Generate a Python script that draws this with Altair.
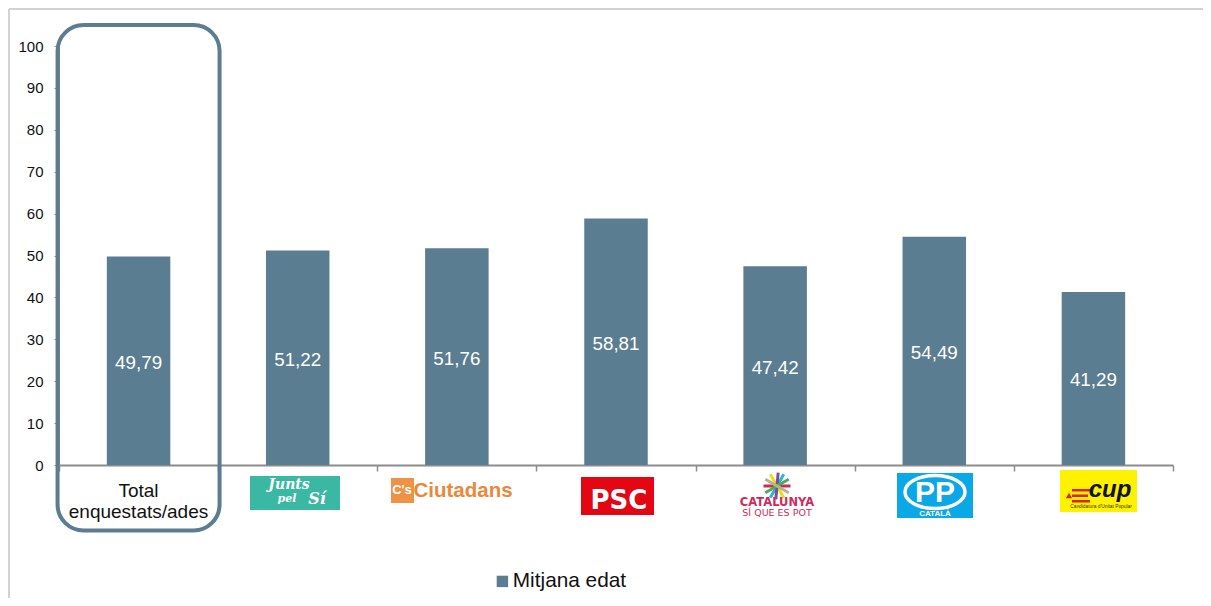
import altair as alt
import pandas as pd

categories = ["Total", "Junts", "Cs", "PSC", "CSQP", "PP", "CUP"]
values = [49.79, 51.22, 51.76, 58.81, 47.42, 54.49, 41.29]
value_labels = ["49,79", "51,22", "51,76", "58,81", "47,42", "54,49", "41,29"]
y_ticks = list(range(0, 101, 10))
series_name = "Mitjana edat"
total_label = ["Total", "enquestats/ades"]

BAR = "#5b7d91"
FONT = "Liberation Sans"
W, H = 1114, 419
PAD_L, PAD_T = 51, 38

df = pd.DataFrame({"cat": categories, "v": values, "lab": value_labels,
                   "mid": [v / 2 for v in values], "s": [series_name] * len(values)})
xs = alt.X("cat:N", sort=categories, title=None,
           scale=alt.Scale(paddingInner=0, paddingOuter=0),
           axis=alt.Axis(labels=False, tickBand="extent", tickSize=6, tickColor="#8c8c8c",
                         domainColor="#8c8c8c", domainWidth=2, tickWidth=1.5))

bars = alt.Chart(df).mark_bar(size=63.5).encode(
    x=xs,
    y=alt.Y("v:Q", title=None, scale=alt.Scale(domain=[0, 100], nice=False),
            axis=alt.Axis(values=y_ticks, grid=False, tickSize=5, tickColor="#8c8c8c",
                          domainColor="#8c8c8c", labelFont=FONT, labelFontSize=15,
                          labelColor="#111111", labelPadding=11)),
    color=alt.Color("s:N", scale=alt.Scale(domain=[series_name], range=[BAR]),
                    legend=alt.Legend(title=None, orient="none", legendX=433, legendY=525,
                                      symbolType="square", symbolSize=130, symbolStrokeWidth=0,
                                      labelFont=FONT, labelFontSize=20.8, labelColor="#111111",
                                      labelOffset=0)),
)
bar_text = alt.Chart(df).mark_text(font=FONT, fontSize=18.8, color="white", dy=2).encode(
    x=alt.X("cat:N", sort=categories), y=alt.Y("mid:Q"), text="lab:N")

centers = {c: 59 + W / 7 * (i + 0.5) for i, c in enumerate(categories)}


def box(cat, x0, x1, y0, y1, color, **kw):
    d = pd.DataFrame({"cat": [cat]})
    return alt.Chart(d).mark_bar(size=x1 - x0, xOffset=(x0 + x1) / 2 - centers[cat], **kw).encode(
        x=alt.X("cat:N", sort=categories),
        y=alt.value(y0 - 46), y2=alt.value(y1 - 46), color=alt.value(color))


def label(cat, txt, x, y, color, size, **kw):
    d = pd.DataFrame({"cat": [cat], "t": [txt]})
    kw.setdefault("font", FONT)
    return alt.Chart(d).mark_text(fontSize=size, xOffset=x - centers[cat], yOffset=0,
                                  color=color, **kw).encode(
        x=alt.X("cat:N", sort=categories), y=alt.value(y - 46), text="t:N")


def spoke(cat, x, y, angle, length, color, width=3):
    d = pd.DataFrame({"cat": [cat]})
    return alt.Chart(d).mark_point(shape="stroke", filled=False, xOffset=x - centers[cat],
                                   angle=angle, size=length ** 2, stroke=color,
                                   strokeWidth=width, opacity=1).encode(
        x=alt.X("cat:N", sort=categories), y=alt.value(y - 46))


ELLIPSE = "M-1,0 A1,0.55 0 1,1 1,0 A1,0.55 0 1,1 -1,0 Z"
layers = [bars, bar_text]

# "Total" label
layers += [label("Total", total_label[0], 138.5, 491, "#111111", 19),
           label("Total", total_label[1], 138.5, 512, "#111111", 19)]

# Junts pel Si
SCRIPT = dict(font="DejaVu Serif", fontStyle="italic", fontWeight="bold")
layers += [box("Junts", 250, 340, 476, 510, "#3ab8a3"),
           label("Junts", "Junts", 289, 485, "white", 14, **SCRIPT),
           label("Junts", "pel", 287, 499, "white", 11, **SCRIPT),
           label("Junts", "Sí", 317, 499, "white", 16, **SCRIPT)]

# Ciutadans
layers += [box("Cs", 391, 414, 478, 503, "#ee9246"),
           label("Cs", "C's", 402, 490, "white", 13, fontWeight="bold"),
           label("Cs", "Ciutadans", 463, 491, "#e8893b", 20.5, fontWeight="bold")]

# PSC
layers += [box("PSC", 581, 654, 477, 515, "#e30613"),
           label("PSC", "PSC", 619, 501, "white", 26, font="DejaVu Sans", fontWeight="bold")]

# Catalunya si que es pot
for ang, col in [(60, "#f2d91a"), (120, "#2bb6d8"), (95, "#7f4b97"), (0, "#cf2a5c"),
                 (150, "#4cae4f"), (30, "#b3b58a")]:
    layers.append(spoke("CSQP", 777, 486, ang, 27, col))
layers += [label("CSQP", "CATALUNYA", 777, 502.5, "#cf2a5c", 11.5, font="DejaVu Sans", fontWeight="bold"),
           label("CSQP", "SÍ QUE ES POT", 777, 513, "#cf2a5c", 9.5, font="DejaVu Sans")]

# PP
d_pp = pd.DataFrame({"cat": ["PP"]})
layers += [box("PP", 897, 973, 473, 518, "#0aa8e6"),
           alt.Chart(d_pp).mark_point(shape=ELLIPSE, filled=False, xOffset=935 - centers["PP"],
                                      size=60 ** 2, stroke="white", strokeWidth=3.5, opacity=1).encode(
               x=alt.X("cat:N", sort=categories), y=alt.value(492 - 46)),
           label("PP", "PP", 935, 493, "white", 30, fontWeight="bold"),
           label("PP", "CATALÀ", 935, 514, "white", 8, fontWeight="bold")]

# CUP
d_cup = pd.DataFrame({"cat": ["CUP"]})
layers += [box("CUP", 1060, 1137, 470, 512, "#fff200"),
           box("CUP", 1072, 1090, 489, 491.5, "#d8232a"),
           box("CUP", 1072, 1088, 494.5, 497, "#d8232a"),
           box("CUP", 1072, 1090, 500, 502.5, "#d8232a"),
           alt.Chart(d_cup).mark_point(shape="triangle-up", filled=True, xOffset=1069 - centers["CUP"],
                                       size=40, color="#d8232a", opacity=1).encode(
               x=alt.X("cat:N", sort=categories), y=alt.value(495.5 - 46)),
           label("CUP", "cup", 1110, 490, "#111111", 24, fontWeight="bold", fontStyle="italic"),
           label("CUP", "Candidatura d'Unitat Popular", 1101, 507, "#333333", 4.8)]

# highlight box around the total column
layers.append(alt.Chart(df[df.cat == "Total"]).mark_bar(
    size=162, cornerRadius=26, fillOpacity=0, stroke=BAR, strokeWidth=4, clip=False).encode(
    x=alt.X("cat:N", sort=categories), y=alt.value(25 - 46), y2=alt.value(530.5 - 46),
    color=alt.value("transparent"), stroke=alt.value(BAR)))

# outer frame
frame = pd.DataFrame({"a": [0]})
layers += [
    alt.Chart(frame).mark_rule(color="#d2d2d2", strokeWidth=2).encode(
        x=alt.value(9 - 59), y=alt.value(9 - 46), y2=alt.value(606 - 46)),
    alt.Chart(frame).mark_rule(color="#d2d2d2", strokeWidth=2).encode(
        x=alt.value(9 - 59), x2=alt.value(1211 - 59), y=alt.value(9 - 46)),
]

chart = alt.layer(*layers).properties(
    width=W, height=H,
    autosize=alt.AutoSizeParams(type="none"),
    padding={"left": PAD_L, "top": PAD_T, "right": 30, "bottom": 133},
).configure_view(strokeWidth=0)

chart.save("out.html", embed_options={"renderer": "svg", "actions": False})
